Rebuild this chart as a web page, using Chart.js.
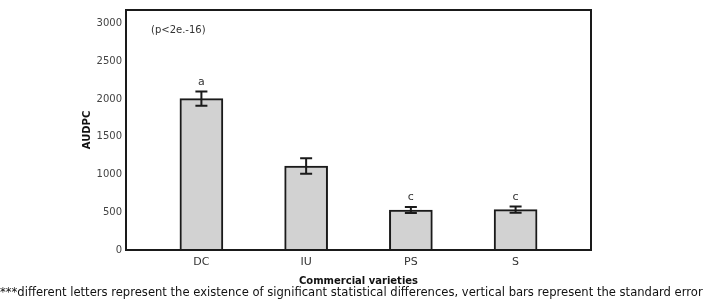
<!DOCTYPE html>
<html>
<head>
<meta charset="utf-8">
<script src="https://cdn.jsdelivr.net/npm/chart.js@4/dist/chart.umd.min.js"></script>
<style>
  html, body { margin: 0; padding: 0; background: #fff; }
  #wrap { position: relative; width: 706px; height: 302px; }
</style>
</head>
<body>
<div id="wrap"><canvas id="c"></canvas></div>
<script>
const categories = ['DC', 'IU', 'PS', 'S'];
const audpc = [2005, 1112, 530, 535];
const stdError = [95, 103, 40, 42];
const letters = ['a', '', 'c', 'c'];
const yTicks = [0, 500, 1000, 1500, 2000, 2500, 3000];
const pLabel = '(p<2e.-16)';
const footnote = '***different letters represent the existence of significant statistical differences, vertical bars represent the standard error';

const FONT = '"DejaVu Sans", Verdana, sans-serif';

// error bars, significance letters, frame and footnote
const extras = {
  id: 'extras',
  afterDatasetsDraw(chart) {
    const ctx = chart.ctx;
    const y = chart.scales.y;
    const area = chart.chartArea;
    const meta = chart.getDatasetMeta(0);
    ctx.save();
    ctx.strokeStyle = '#1a1a1a';
    ctx.lineWidth = 2;
    meta.data.forEach((bar, i) => {
      const top = y.getPixelForValue(audpc[i] + stdError[i]);
      const bot = y.getPixelForValue(audpc[i] - stdError[i]);
      const x = bar.x;
      ctx.beginPath();
      ctx.moveTo(x, top); ctx.lineTo(x, bot);
      ctx.moveTo(x - 6, top); ctx.lineTo(x + 6, top);
      ctx.moveTo(x - 6, bot); ctx.lineTo(x + 6, bot);
      ctx.stroke();
      if (letters[i]) {
        ctx.fillStyle = '#333';
        ctx.font = '11px ' + FONT;
        ctx.textAlign = 'center';
        ctx.textBaseline = 'bottom';
        ctx.fillText(letters[i], x, top - 4);
      }
    });
    // frame
    ctx.strokeRect(area.left, area.top, area.right - area.left, area.bottom - area.top);
    // p-value note
    ctx.fillStyle = '#333';
    ctx.font = '10px ' + FONT;
    ctx.textAlign = 'left';
    ctx.textBaseline = 'middle';
    ctx.fillText(pLabel, area.left + 25, 30);
    // footnote, fitted to the page width
    ctx.fillStyle = '#111';
    let size = 12;
    ctx.font = size + 'px ' + FONT;
    const w = ctx.measureText(footnote).width;
    size = size * 703 / w;
    ctx.font = size + 'px ' + FONT;
    ctx.fillText(footnote, 0, 293);
    ctx.restore();
  }
};

new Chart(document.getElementById('c'), {
  type: 'bar',
  data: {
    datasets: [{
      data: categories.map((c, i) => ({ x: i, y: audpc[i] })),
      backgroundColor: '#d2d2d2',
      borderColor: '#1a1a1a',
      borderWidth: 2,
      barThickness: 43
    }]
  },
  options: {
    responsive: true,
    maintainAspectRatio: false,
    animation: false,
    layout: { padding: { left: 75, top: 9, right: 115, bottom: 0 } },
    plugins: { legend: { display: false }, tooltip: { enabled: false } },
    scales: {
      x: {
        type: 'linear',
        offset: false,
        min: -0.72,
        max: 3.72,
        afterBuildTicks: (s) => { s.ticks = categories.map((c, i) => ({ value: i })); },
        afterFit: (s) => { s.height = 52; },
        grid: { display: false, drawTicks: false },
        border: { display: false },
        ticks: {
          padding: 6,
          color: '#333',
          font: { family: FONT, size: 11 },
          callback: (v) => categories[v]
        },
        title: {
          display: true,
          text: 'Commercial varieties',
          color: '#111',
          font: { family: FONT, size: 10, weight: 'bold' },
          padding: { top: 0, bottom: 15 }
        }
      },
      y: {
        min: 0,
        max: 3180,
        afterBuildTicks: (s) => { s.ticks = yTicks.map(v => ({ value: v })); },
        afterFit: (s) => { s.width = 51; },
        grid: { display: false, drawTicks: false },
        border: { display: false },
        ticks: {
          padding: 4,
          color: '#444',
          font: { family: FONT, size: 10 },
          callback: (v) => String(v)
        },
        title: {
          display: true,
          text: 'AUDPC',
          color: '#111',
          font: { family: FONT, size: 10, weight: 'bold' },
          padding: { top: 6, bottom: 0 }
        }
      }
    }
  },
  plugins: [extras]
});
</script>
</body>
</html>
